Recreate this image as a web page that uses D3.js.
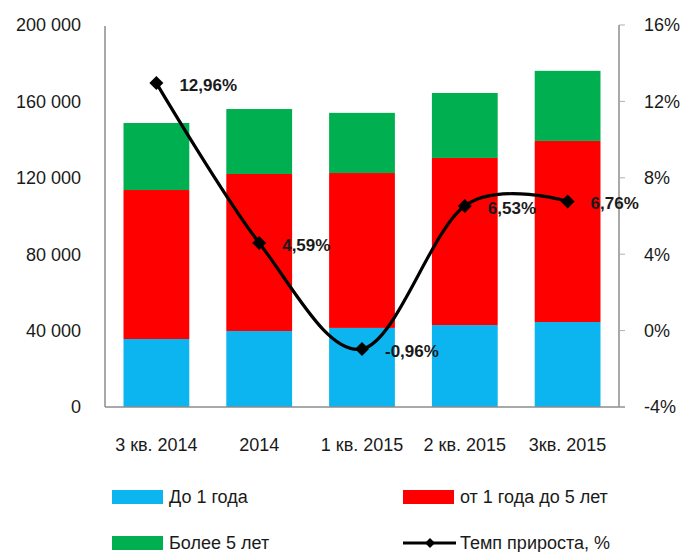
<!DOCTYPE html>
<html>
<head>
<meta charset="utf-8">
<script src="https://cdn.jsdelivr.net/npm/d3@7"></script>
<style>
  body { margin: 0; background: #fff; }
  text { font-family: "Liberation Sans", Arial, sans-serif; fill: #1a1a1a; }
</style>
</head>
<body>
<div id="chart"></div>
<script>
// chart data
var categories = ["3 кв. 2014", "2014", "1 кв. 2015", "2 кв. 2015", "3кв. 2015"];
var upTo1 = [35600, 39800, 41400, 42900, 44500];
var from1to5 = [78000, 82200, 81100, 87500, 94800];
var over5 = [35100, 34000, 31500, 34000, 36700];
var growth = [12.96, 4.59, -0.96, 6.53, 6.76];
var growthLabels = ["12,96%", "4,59%", "-0,96%", "6,53%", "6,76%"];
var leftTicks = [0, 40000, 80000, 120000, 160000, 200000];
var rightTicks = [-4, 0, 4, 8, 12, 16];
var seriesNames = ["До 1 года", "от 1 года до 5 лет", "Более 5 лет", "Темп прироста, %"];
var seriesColors = ["#0cb4f0", "#ff0000", "#00b050", "#000000"];

var width = 683, height = 552;
//plot area edges (window.top is reserved, so use other names)
var plotL = 105, plotR = 619, plotT = 25, plotB = 407;

var svg = d3.select("#chart").append("svg")
	.attr("width", width)
	.attr("height", height);

var x = d3.scaleBand()
	.domain(categories)
	.range([plotL, plotR])
	.paddingInner(0.36)
	.paddingOuter(0.18);

var y = d3.scaleLinear().domain([0, 200000]).range([plotB, plotT]);
var y2 = d3.scaleLinear().domain([-4, 16]).range([plotB, plotT]);

//stack the three bar series
var rows = categories.map(function(c, i){
	return {cat: c, a: upTo1[i], b: from1to5[i], c: over5[i]};
});
var stack = d3.stack().keys(["a", "b", "c"])(rows);

svg.selectAll("g.layer")
	.data(stack)
	.enter()
	.append("g")
	.attr("class", "layer")
	.attr("fill", function(d, i){ return seriesColors[i]; })
	.selectAll("rect")
	.data(function(d){ return d; })
	.enter()
	.append("rect")
	.attr("x", function(d){ return x(d.data.cat); })
	.attr("width", x.bandwidth())
	.attr("y", function(d){ return y(d[1]); })
	.attr("height", function(d){ return y(d[0]) - y(d[1]); });

//axis lines
var axisColor = "#8c8c8c";
svg.append("line").attr("x1", plotL).attr("x2", plotL).attr("y1", plotT + 1).attr("y2", plotB)
	.attr("stroke", axisColor).attr("stroke-width", 1.5);
svg.append("line").attr("x1", plotR).attr("x2", plotR).attr("y1", plotT).attr("y2", plotB)
	.attr("stroke", axisColor).attr("stroke-width", 1.5);
svg.append("line").attr("x1", plotL).attr("x2", plotR + 6).attr("y1", plotB).attr("y2", plotB)
	.attr("stroke", axisColor).attr("stroke-width", 1.5);

//left axis labels
var fmt = function(v){ return d3.format(",")(v).replace(/,/g, " "); };
svg.selectAll("text.ly")
	.data(leftTicks)
	.enter()
	.append("text")
	.attr("class", "ly")
	.attr("x", 81)
	.attr("y", function(d){ return y(d); })
	.attr("dy", "0.35em")
	.attr("text-anchor", "end")
	.attr("font-size", 18)
	.text(fmt);

//right axis ticks and labels
svg.selectAll("line.rt")
	.data(rightTicks)
	.enter()
	.append("line")
	.attr("class", "rt")
	.attr("x1", plotR).attr("x2", plotR + 6)
	.attr("y1", function(d){ return y2(d); })
	.attr("y2", function(d){ return y2(d); })
	.attr("stroke", "#b0b0b0");
svg.selectAll("text.ry")
	.data(rightTicks)
	.enter()
	.append("text")
	.attr("class", "ry")
	.attr("x", 644)
	.attr("y", function(d){ return y2(d); })
	.attr("dy", "0.35em")
	.attr("font-size", 18)
	.text(function(d){ return d + "%"; });

//category labels
svg.selectAll("text.cat")
	.data(categories)
	.enter()
	.append("text")
	.attr("class", "cat")
	.attr("x", function(d){ return x(d) + x.bandwidth() / 2; })
	.attr("y", 445)
	.attr("dy", "0.35em")
	.attr("text-anchor", "middle")
	.attr("font-size", 18)
	.text(function(d){ return d; });

//growth line, smoothed like Excel
var pts = categories.map(function(c, i){
	return [x(c) + x.bandwidth() / 2, y2(growth[i])];
});
var line = d3.line().curve(d3.curveCardinal.tension(0));
svg.append("path")
	.attr("d", line(pts))
	.attr("fill", "none")
	.attr("stroke", "#000")
	.attr("stroke-width", 3.2);

function diamond(r){
	return "M0," + (-r) + "L" + r + ",0L0," + r + "L" + (-r) + ",0Z";
}
svg.selectAll("path.mk")
	.data(pts)
	.enter()
	.append("path")
	.attr("class", "mk")
	.attr("d", diamond(7))
	.attr("transform", function(d){ return "translate(" + d[0] + "," + d[1] + ")"; })
	.attr("fill", "#000");

svg.selectAll("text.val")
	.data(pts)
	.enter()
	.append("text")
	.attr("class", "val")
	.attr("x", function(d){ return d[0] + 23; })
	.attr("y", function(d){ return d[1] + 2; })
	.attr("dy", "0.35em")
	.attr("font-size", 17)
	.attr("font-weight", "bold")
	.text(function(d, i){ return growthLabels[i]; });

//legend
var legendPos = [[112, 497], [403, 497], [112, 543], [403, 543]];
legendPos.forEach(function(p, i){
	if (i < 3){
		svg.append("rect")
			.attr("x", p[0]).attr("y", p[1] - 7)
			.attr("width", 51).attr("height", 14)
			.attr("fill", seriesColors[i]);
	} else {
		svg.append("line")
			.attr("x1", p[0]).attr("x2", p[0] + 53)
			.attr("y1", p[1]).attr("y2", p[1])
			.attr("stroke", "#000").attr("stroke-width", 3);
		svg.append("path")
			.attr("d", diamond(5))
			.attr("transform", "translate(" + (p[0] + 27) + "," + p[1] + ")")
			.attr("fill", "#000");
	}
	svg.append("text")
		.attr("x", p[0] + 57)
		.attr("y", p[1])
		.attr("dy", "0.35em")
		.attr("font-size", 18)
		.text(seriesNames[i]);
});
</script>
</body>
</html>
